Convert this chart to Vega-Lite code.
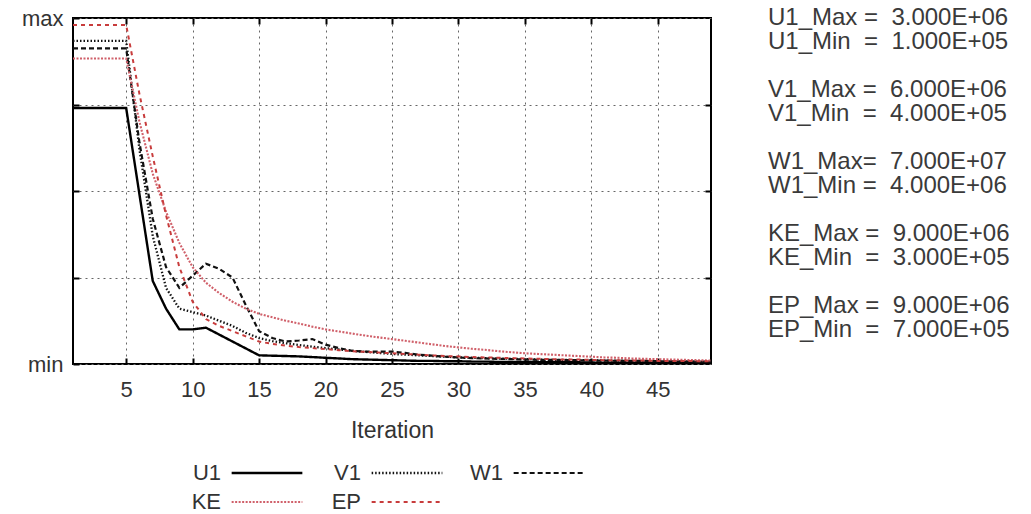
{
 "$schema": "https://vega.github.io/schema/vega-lite/v6.json",
 "autosize": {"type": "pad"},
 "padding": {"left": 20, "top": 6, "right": 5, "bottom": 5},
 "bounds": "flush",
 "spacing": 56,
 "background": "white",
 "config": {
  "view": {"stroke": "black", "strokeWidth": 2},
  "font": "Liberation Sans",
  "axis": {"labelFont": "Liberation Sans", "titleFont": "Liberation Sans", "labelColor": "#333", "titleColor": "#333"},
  "legend": {"labelFont": "Liberation Sans", "labelColor": "#333"}
 },
 "hconcat": [
  {
   "width": 638,
   "height": 346,
   "data": {"values": [
    {"it":1,"U1":0.74,"V1":0.934,"W1":0.912,"KE":0.883,"EP":0.98},
    {"it":2,"U1":0.74,"V1":0.934,"W1":0.912,"KE":0.883,"EP":0.98},
    {"it":3,"U1":0.74,"V1":0.934,"W1":0.912,"KE":0.883,"EP":0.98},
    {"it":4,"U1":0.74,"V1":0.934,"W1":0.912,"KE":0.883,"EP":0.98},
    {"it":5,"U1":0.74,"V1":0.934,"W1":0.912,"KE":0.883,"EP":0.98},
    {"it":6,"U1":0.49,"V1":0.62,"W1":0.64,"KE":0.70,"EP":0.78},
    {"it":7,"U1":0.24,"V1":0.37,"W1":0.42,"KE":0.55,"EP":0.60},
    {"it":8,"U1":0.16,"V1":0.22,"W1":0.28,"KE":0.44,"EP":0.43},
    {"it":9,"U1":0.10,"V1":0.16,"W1":0.22,"KE":0.35,"EP":0.28},
    {"it":10,"U1":0.10,"V1":0.15,"W1":0.255,"KE":0.28,"EP":0.18},
    {"it":11,"U1":0.105,"V1":0.14,"W1":0.29,"KE":0.235,"EP":0.13},
    {"it":12,"U1":0.085,"V1":0.125,"W1":0.275,"KE":0.205,"EP":0.11},
    {"it":13,"U1":0.065,"V1":0.11,"W1":0.25,"KE":0.18,"EP":0.095},
    {"it":14,"U1":0.045,"V1":0.09,"W1":0.17,"KE":0.16,"EP":0.08},
    {"it":15,"U1":0.025,"V1":0.075,"W1":0.095,"KE":0.145,"EP":0.065},
    {"it":16,"U1":0.024,"V1":0.066,"W1":0.075,"KE":0.135,"EP":0.058},
    {"it":17,"U1":0.023,"V1":0.06,"W1":0.065,"KE":0.125,"EP":0.053},
    {"it":18,"U1":0.022,"V1":0.055,"W1":0.068,"KE":0.117,"EP":0.049},
    {"it":19,"U1":0.02,"V1":0.05,"W1":0.072,"KE":0.108,"EP":0.046},
    {"it":20,"U1":0.018,"V1":0.046,"W1":0.056,"KE":0.10,"EP":0.043},
    {"it":21,"U1":0.016,"V1":0.042,"W1":0.046,"KE":0.094,"EP":0.040},
    {"it":22,"U1":0.014,"V1":0.038,"W1":0.038,"KE":0.088,"EP":0.037},
    {"it":23,"U1":0.013,"V1":0.035,"W1":0.036,"KE":0.082,"EP":0.035},
    {"it":24,"U1":0.012,"V1":0.032,"W1":0.036,"KE":0.077,"EP":0.033},
    {"it":25,"U1":0.011,"V1":0.029,"W1":0.036,"KE":0.072,"EP":0.031},
    {"it":26,"U1":0.010,"V1":0.027,"W1":0.032,"KE":0.067,"EP":0.029},
    {"it":27,"U1":0.009,"V1":0.025,"W1":0.027,"KE":0.062,"EP":0.027},
    {"it":28,"U1":0.009,"V1":0.023,"W1":0.024,"KE":0.057,"EP":0.025},
    {"it":29,"U1":0.008,"V1":0.021,"W1":0.021,"KE":0.052,"EP":0.023},
    {"it":30,"U1":0.008,"V1":0.019,"W1":0.019,"KE":0.048,"EP":0.022},
    {"it":31,"U1":0.007,"V1":0.018,"W1":0.017,"KE":0.044,"EP":0.020},
    {"it":32,"U1":0.007,"V1":0.017,"W1":0.016,"KE":0.041,"EP":0.019},
    {"it":33,"U1":0.006,"V1":0.016,"W1":0.015,"KE":0.037,"EP":0.018},
    {"it":34,"U1":0.006,"V1":0.015,"W1":0.014,"KE":0.034,"EP":0.017},
    {"it":35,"U1":0.006,"V1":0.014,"W1":0.013,"KE":0.031,"EP":0.016},
    {"it":36,"U1":0.005,"V1":0.013,"W1":0.012,"KE":0.029,"EP":0.015},
    {"it":37,"U1":0.005,"V1":0.012,"W1":0.012,"KE":0.027,"EP":0.014},
    {"it":38,"U1":0.005,"V1":0.012,"W1":0.011,"KE":0.025,"EP":0.013},
    {"it":39,"U1":0.005,"V1":0.011,"W1":0.011,"KE":0.023,"EP":0.013},
    {"it":40,"U1":0.004,"V1":0.011,"W1":0.010,"KE":0.021,"EP":0.012},
    {"it":41,"U1":0.004,"V1":0.010,"W1":0.010,"KE":0.019,"EP":0.011},
    {"it":42,"U1":0.004,"V1":0.010,"W1":0.009,"KE":0.018,"EP":0.011},
    {"it":43,"U1":0.004,"V1":0.009,"W1":0.009,"KE":0.016,"EP":0.010},
    {"it":44,"U1":0.004,"V1":0.009,"W1":0.009,"KE":0.015,"EP":0.010},
    {"it":45,"U1":0.003,"V1":0.008,"W1":0.008,"KE":0.014,"EP":0.009},
    {"it":46,"U1":0.003,"V1":0.008,"W1":0.008,"KE":0.013,"EP":0.009},
    {"it":47,"U1":0.003,"V1":0.008,"W1":0.008,"KE":0.012,"EP":0.009},
    {"it":48,"U1":0.003,"V1":0.007,"W1":0.007,"KE":0.011,"EP":0.008},
    {"it":49,"U1":0.003,"V1":0.007,"W1":0.007,"KE":0.010,"EP":0.008}
   ]},
   "transform": [{"fold": ["U1", "V1", "W1", "KE", "EP"], "as": ["series", "v"]}],
   "layer": [
    {
     "mark": {"type": "line", "clip": true},
     "encoding": {
      "x": {"field": "it", "type": "quantitative", "scale": {"domain": [1, 49], "nice": false},
       "axis": {"orient": "bottom", "values": [5,10,15,20,25,30,35,40,45], "grid": true, "gridColor": "#666", "gridDash": [2, 4], "gridWidth": 1, "domain": false, "tickSize": -6, "tickColor": "black", "tickWidth": 2, "labelFontSize": 22, "labelPadding": 21, "title": "Iteration", "titleFontSize": 23, "titleFontWeight": "normal", "titlePadding": 19}},
      "y": {"field": "v", "type": "quantitative", "scale": {"domain": [0, 1], "nice": false},
       "axis": {"orient": "left", "values": [0, 0.25, 0.5, 0.75, 1], "labelExpr": "datum.value == 1 ? 'max' : datum.value == 0 ? 'min' : ''", "grid": true, "gridColor": "#666", "gridDash": [2, 4], "gridWidth": 1, "domain": false, "tickSize": -6, "tickColor": "black", "tickWidth": 2, "labelFontSize": 22, "labelPadding": 16, "title": null}},
      "color": {"field": "series", "type": "nominal", "scale": {"domain": ["U1", "V1", "W1", "KE", "EP"], "range": ["#000000", "#111111", "#111111", "#d0606a", "#c83c3c"]},
       "legend": {"orient": "none", "legendX": 183, "legendY": 444, "direction": "horizontal", "columns": 3, "title": null, "symbolType": "M-5,0H5", "symbolSize": 200, "labelFontSize": 22, "labelAlign": "right", "labelOffset": -57, "columnPadding": 23, "rowPadding": 7}},
      "strokeDash": {"field": "series", "type": "nominal", "scale": {"domain": ["U1", "V1", "W1", "KE", "EP"], "range": [[1, 0], [1.5, 2], [5, 3], [2, 1.5], [4, 4]]}, "legend": null},
      "strokeWidth": {"field": "series", "type": "nominal", "scale": {"domain": ["U1", "V1", "W1", "KE", "EP"], "range": [2.4, 2, 2.4, 1.6, 1.8]}, "legend": null}
     }
    },
    {
     "mark": {"type": "line", "opacity": 0},
     "encoding": {
      "x": {"field": "it", "type": "quantitative", "axis": {"orient": "top", "values": [5,10,15,20,25,30,35,40,45], "grid": false, "labels": false, "domain": false, "tickSize": -6, "tickColor": "black", "tickWidth": 2, "title": null}},
      "y": {"field": "v", "type": "quantitative", "axis": {"orient": "right", "values": [0.25, 0.5, 0.75], "grid": false, "labels": false, "domain": false, "tickSize": -6, "tickColor": "black", "tickWidth": 2, "title": null}},
      "detail": {"field": "series"}
     }
    }
   ],
   "resolve": {"axis": {"x": "independent", "y": "independent"}}
  },
  {
   "width": 2,
   "height": 312,
   "view": {"stroke": null},
   "data": {"values": [
    {"t": "U1_Max =\u00a0\u00a03.000E+06"},
    {"t": "U1_Min \u00a0=\u00a0\u00a01.000E+05"},
    {"t": "V1_Max =\u00a0\u00a06.000E+06"},
    {"t": "V1_Min \u00a0=\u00a0\u00a04.000E+05"},
    {"t": "W1_Max=\u00a0\u00a07.000E+07"},
    {"t": "W1_Min =\u00a0\u00a04.000E+06"},
    {"t": "KE_Max =\u00a0\u00a09.000E+06"},
    {"t": "KE_Min \u00a0=\u00a0\u00a03.000E+05"},
    {"t": "EP_Max =\u00a0\u00a09.000E+06"},
    {"t": "EP_Min \u00a0=\u00a0\u00a07.000E+05"}
   ]},
   "mark": {"type": "text", "align": "left", "baseline": "middle", "fontSize": 24, "font": "Liberation Sans", "color": "#3a3a3a"},
   "encoding": {
    "text": {"field": "t"},
    "y": {"field": "t", "type": "nominal", "axis": null,
     "scale": {"type": "point", "padding": 0, "domain": ["U1_Max =\u00a0\u00a03.000E+06", "U1_Min \u00a0=\u00a0\u00a01.000E+05", "gap1", "V1_Max =\u00a0\u00a06.000E+06", "V1_Min \u00a0=\u00a0\u00a04.000E+05", "gap2", "W1_Max=\u00a0\u00a07.000E+07", "W1_Min =\u00a0\u00a04.000E+06", "gap3", "KE_Max =\u00a0\u00a09.000E+06", "KE_Min \u00a0=\u00a0\u00a03.000E+05", "gap4", "EP_Max =\u00a0\u00a09.000E+06", "EP_Min \u00a0=\u00a0\u00a07.000E+05"]}}
   }
  }
 ]
}
